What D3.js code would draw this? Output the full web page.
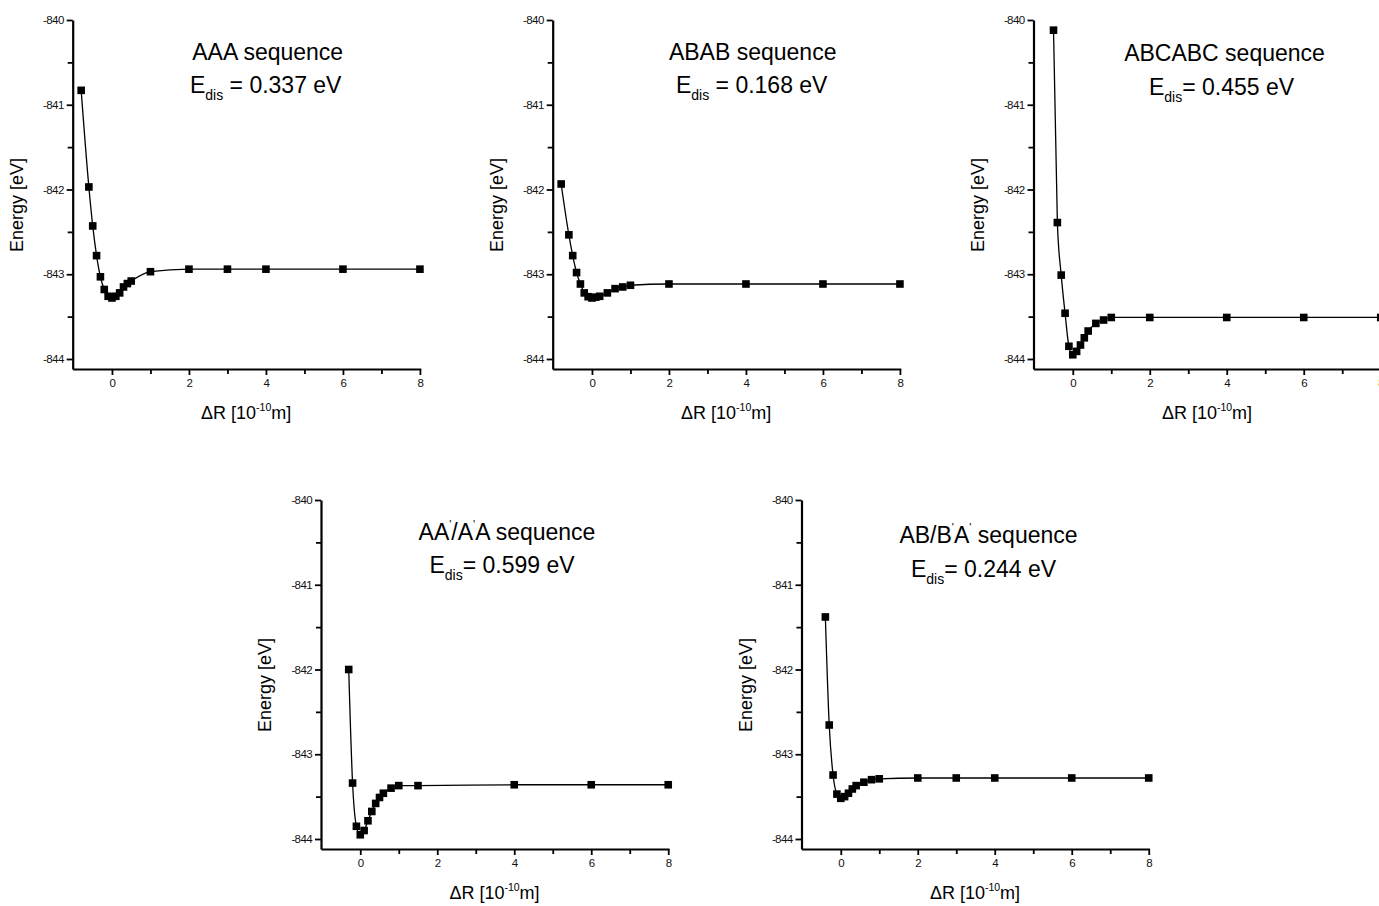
<!DOCTYPE html>
<html>
<head>
<meta charset="utf-8">
<script src="https://cdn.jsdelivr.net/npm/d3@7"></script>
<style>
  body { margin: 0; background: #fff; }
  svg { display: block; font-family: "Liberation Sans", Arial, sans-serif; }
</style>
</head>
<body>
<svg id="chart" width="1379" height="906"></svg>
<script>
// data: dR in 1e-10 m, energy in eV
const aaaX = [-0.8, -0.6, -0.5, -0.4, -0.3, -0.2, -0.1, 0, 0.1, 0.2, 0.3, 0.4, 0.5, 1, 2, 3, 4, 6, 8];
const aaaE = [-840.83, -841.97, -842.43, -842.78, -843.03, -843.18, -843.26, -843.28, -843.26, -843.22, -843.15, -843.11, -843.08, -842.97, -842.94, -842.94, -842.94, -842.94, -842.94];

const ababX = [-0.8, -0.6, -0.5, -0.4, -0.3, -0.2, -0.1, 0, 0.1, 0.2, 0.4, 0.6, 0.8, 1, 2, 4, 6, 8];
const ababE = [-841.935, -842.535, -842.78, -842.98, -843.115, -843.22, -843.265, -843.28, -843.27, -843.26, -843.22, -843.17, -843.15, -843.13, -843.115, -843.115, -843.115, -843.115];

const abcX = [-0.5, -0.4, -0.3, -0.2, -0.1, 0, 0.1, 0.2, 0.3, 0.4, 0.6, 0.8, 1, 2, 4, 6, 8];
const abcE = [-840.12, -842.39, -843.01, -843.46, -843.85, -843.95, -843.91, -843.835, -843.75, -843.67, -843.58, -843.54, -843.51, -843.51, -843.51, -843.51, -843.51];

const aapX = [-0.3, -0.2, -0.1, 0, 0.1, 0.2, 0.3, 0.4, 0.5, 0.6, 0.8, 1, 1.5, 4, 6, 8];
const aapE = [-842.0, -843.34, -843.85, -843.95, -843.9, -843.785, -843.675, -843.58, -843.51, -843.46, -843.4, -843.37, -843.37, -843.36, -843.36, -843.36];

const abpX = [-0.4, -0.3, -0.2, -0.1, 0, 0.1, 0.2, 0.3, 0.4, 0.6, 0.8, 1, 2, 3, 4, 6, 8];
const abpE = [-841.38, -842.655, -843.245, -843.47, -843.52, -843.5, -843.46, -843.41, -843.37, -843.33, -843.3, -843.29, -843.28, -843.28, -843.28, -843.28, -843.28];

const yTicks = [-840, -841, -842, -843, -844];
const yMinor = [-840.5, -841.5, -842.5, -843.5];
const xTicks = [0, 2, 4, 6, 8];
const xMinor = [1, 3, 5, 7];

// title pieces: [text, "sup"|""]
const titles = [
  [["AAA sequence", ""]],
  [["ABAB sequence", ""]],
  [["ABCABC sequence", ""]],
  [["AA", ""], ["'", "sup"], ["/A", ""], ["'", "sup"], ["A sequence", ""]],
  [["AB/B", ""], ["'", "sup"], ["A", ""], ["'", "sup"], [" sequence", ""]]
];
const edisValues = ["0.337", "0.168", "0.455", "0.599", "0.244"];
const edisSpace = [" ", " ", "", "", ""];

// layout of each panel (axis corner) and its label positions
const panels = [
  {left: 72.7, top: 20, tx: 195, ty: 40, ex: 193, ey: 73},
  {left: 552.7, top: 20, tx: 200, ty: 40, ex: 199, ey: 73},
  {left: 1033.5, top: 20, tx: 191, ty: 41, ex: 188, ey: 75},
  {left: 321, top: 500, tx: 186, ty: 40, ex: 181, ey: 73},
  {left: 801.5, top: 500, tx: 187, ty: 43, ex: 182, ey: 77}
];
const seriesX = [aaaX, ababX, abcX, aapX, abpX];
const seriesE = [aaaE, ababE, abcE, aapE, abpE];

const W = 348, H = 349;
const svg = d3.select("#chart");

function drawPanel(i){
    let p = panels[i];
    let g = svg.append("g").attr("transform", "translate(" + p.left + "," + p.top + ")");

    let x = d3.scaleLinear().domain([-1.02, 8.02]).range([0, W]);
    let y = d3.scaleLinear().domain([-840, -844.118]).range([0, H]);

    let pts = seriesX[i].map(function(d, k){ return {x: d, e: seriesE[i][k]}; });

    // minor ticks first
    g.append("g")
    .call(d3.axisLeft(y).tickValues(yMinor).tickFormat("").tickSize(5).tickSizeOuter(0))
    .call(function(a){ a.select(".domain").remove(); a.selectAll("line").attr("stroke-width", 1.8); });

    g.append("g")
    .attr("transform", "translate(0," + H + ")")
    .call(d3.axisBottom(x).tickValues(xMinor).tickFormat("").tickSize(5).tickSizeOuter(0))
    .call(function(a){ a.select(".domain").remove(); a.selectAll("line").attr("stroke-width", 1.8); });

    g.append("g")
    .attr("class", "yaxis")
    .call(d3.axisLeft(y).tickValues(yTicks).tickFormat(function(d){ return String(d); })
          .tickSize(6).tickPadding(3).tickSizeOuter(0));

    g.append("g")
    .attr("class", "xaxis")
    .attr("transform", "translate(0," + H + ")")
    .call(d3.axisBottom(x).tickValues(xTicks).tickFormat(function(d){ return String(d); })
          .tickSize(6).tickPadding(4).tickSizeOuter(0));

    g.selectAll(".domain").attr("stroke-width", 2.2).attr("stroke", "#000");
    g.selectAll(".tick line").attr("stroke-width", 1.8).attr("stroke", "#000");
    g.selectAll(".tick text")
    .attr("font-size", 11.5)
    .attr("letter-spacing", -0.6)
    .attr("font-family", "Liberation Sans, Arial, sans-serif")
    .attr("fill", "#111");

    // curve
    let line = d3.line()
    .x(function(d){ return x(d.x); })
    .y(function(d){ return y(d.e); })
    .curve(d3.curveMonotoneX);

    g.append("path")
    .datum(pts)
    .attr("d", line)
    .attr("fill", "none")
    .attr("stroke", "#000")
    .attr("stroke-width", 1.3);

    g.selectAll("rect.pt")
    .data(pts)
    .enter()
    .append("rect")
    .attr("class", "pt")
    .attr("x", function(d){ return x(d.x) - 3.8; })
    .attr("y", function(d){ return y(d.e) - 3.8; })
    .attr("width", 7.6)
    .attr("height", 7.6)
    .attr("fill", "#000");

    // axis titles
    g.append("text")
    .attr("transform", "translate(-56," + 185 + ") rotate(-90)")
    .attr("text-anchor", "middle")
    .attr("dominant-baseline", "central")
    .attr("font-size", 18)
    .text("Energy [eV]");

    let xl = g.append("text")
    .attr("x", 173.5)
    .attr("y", 399)
    .attr("text-anchor", "middle")
    .attr("font-size", 18);
    xl.append("tspan").text("\u0394R [10");
    xl.append("tspan").attr("font-size", 10.5).attr("dy", -8).text("-10");
    xl.append("tspan").attr("dy", 8).text("m]");

    // panel title
    let t = g.append("text")
    .attr("x", p.tx)
    .attr("y", p.ty)
    .attr("text-anchor", "middle")
    .attr("font-size", 23);
    let raised = false;
    titles[i].forEach(function(s){
        let ts = t.append("tspan").text(s[0]);
        if(s[1] == "sup"){
            ts.attr("font-size", 11).attr("dy", -12);
            raised = true;
        } else if(raised){
            ts.attr("dy", 12);
            raised = false;
        }
    });

    let e = g.append("text")
    .attr("x", p.ex)
    .attr("y", p.ey)
    .attr("text-anchor", "middle")
    .attr("font-size", 23);
    e.append("tspan").text("E");
    e.append("tspan").attr("font-size", 14).attr("dy", 7).text("dis");
    e.append("tspan").attr("dy", -7).text(edisSpace[i] + "= " + edisValues[i] + " eV");
}

for (let i = 0; i < panels.length; i++) {
    drawPanel(i);
}
</script>
</body>
</html>
